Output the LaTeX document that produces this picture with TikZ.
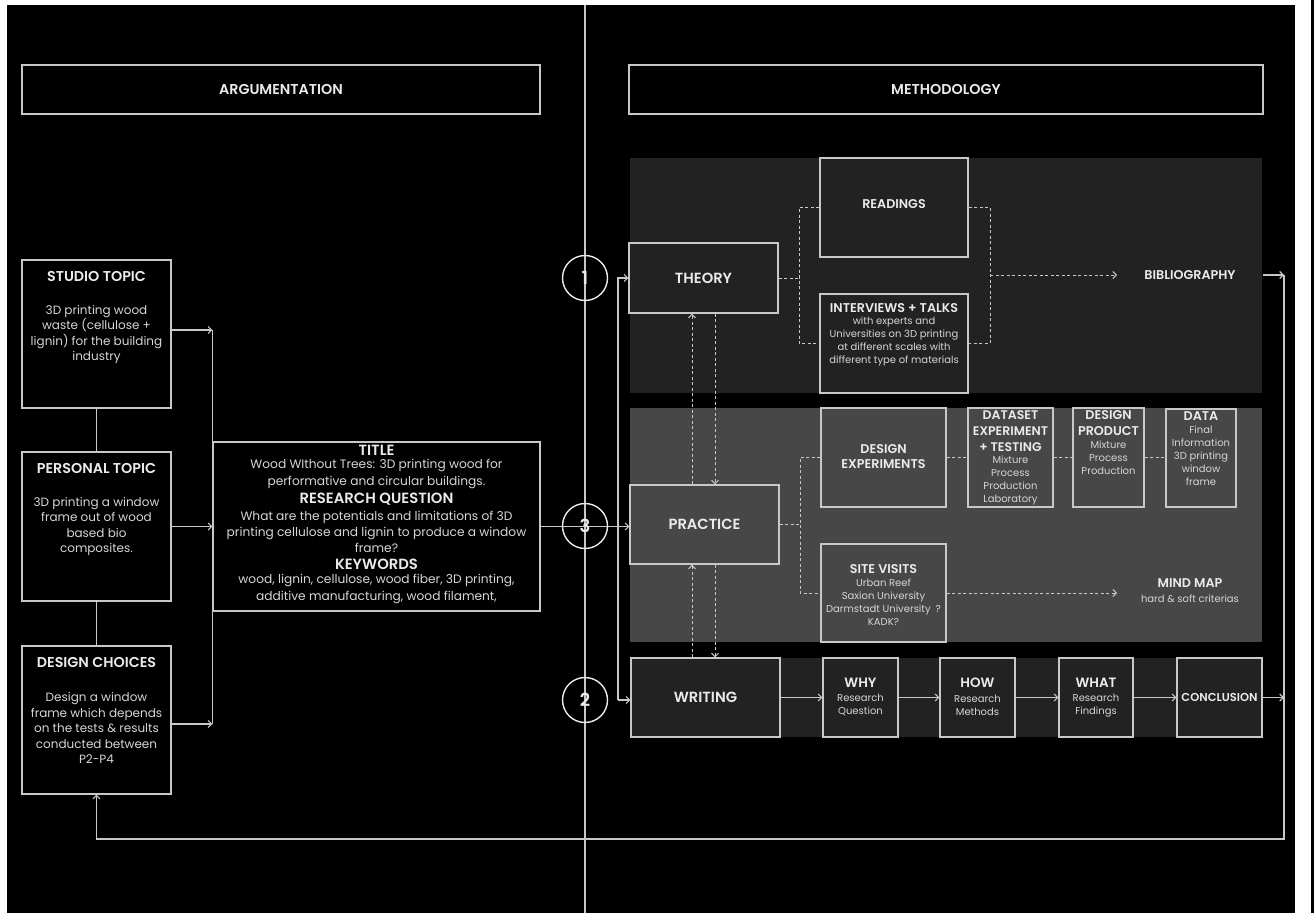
\documentclass[tikz,border=0pt]{standalone}
\usepackage{fontspec}
\setmainfont{Poppins}[BoldFont={Poppins SemiBold}]
\usetikzlibrary{arrows.meta}
\definecolor{lc}{HTML}{C8C8C8}
\definecolor{fg}{HTML}{EBEBEB}
\definecolor{fgb}{HTML}{D6D6D6}
\definecolor{pdark}{HTML}{222222}
\definecolor{pmid}{HTML}{474747}
\newcommand\myhd{\bfseries\fontsize{14.3}{17}\selectfont}
\newcommand\myhdb{\bfseries\fontsize{14.8}{17}\selectfont}
\newcommand\mybd{\fontsize{12}{15.5}\selectfont}
\newcommand\mybdb{\fontsize{12.2}{16.2}\selectfont}
\newcommand\mysm{\fontsize{10}{13}\selectfont}
\newcommand\myhm{\bfseries\fontsize{12.7}{15}\selectfont}
\newcommand\mybig{\bfseries\fontsize{14.7}{17}\selectfont}
\newcommand\myhw{\bfseries\fontsize{13.5}{15}\selectfont}
\begin{document}
\begin{tikzpicture}[x=1pt,y=-1pt,
 ln/.style={draw=lc, line width=1.1pt},
 box/.style={draw=lc, line width=1.2pt, rectangle, inner sep=0pt, text=fg, font=\mybig},
 hd/.style={text=fg, font=\myhd, inner sep=0pt, align=center},
 hdb/.style={text=fg, font=\myhdb, inner sep=0pt, align=center},
 hm/.style={text=fg, font=\myhm, inner sep=0pt, align=center},
 hw/.style={text=fg, font=\myhw, inner sep=0pt, align=center},
 bd/.style={text=fgb, font=\mybd, inner sep=0pt, align=center},
 bdb/.style={text=fgb, font=\mybdb, inner sep=0pt, align=center},
 sm/.style={text=fgb, font=\mysm, inner sep=0pt, align=center},
 arr/.style={ln, -{Straight Barb[length=3.5pt,width=7pt]}},
 dsh/.style={draw=lc, line width=1pt, dash pattern=on 3pt off 2.5pt},
 dsharr/.style={dsh, -{Straight Barb[length=3.5pt,width=7pt]}},
 num/.style={draw=fg, line width=1.4pt, circle, minimum size=45pt, inner sep=0pt, text=fg, font=\bfseries\fontsize{18}{20}\selectfont}
]
\useasboundingbox (0,0) rectangle (1314,913);
\fill[white] (0,0) rectangle (1314,913);
\fill[black] (7,5) rectangle (1295,913);
\fill[black] (1311,0) rectangle (1314,913);

% panels
\fill[pdark] (630,158) rectangle (1262,393);
\fill[pmid] (630,408) rectangle (1262,642);
\fill[pdark] (630,658) rectangle (1262,737);

% divider
\coordinate (dtop) at (585,5);
\coordinate (dbot) at (585,913);
\draw[ln] (dtop) -- (dbot);

% headers
\node[box, minimum width=518pt, minimum height=49pt, font=\myhd] (arg) at (281,89.5) {ARGUMENTATION};
\node[box, minimum width=634pt, minimum height=49pt, font=\myhd] (meth) at (946,89.5) {METHODOLOGY};

% left column
\node[box, minimum width=149pt, minimum height=148pt] (studio) at (96.5,334) {};
\node[hd] (studioH) at (96.5,276) {STUDIO TOPIC};
\node[bd] (studioB) at (96.5,334.5) {3D printing wood\\waste (cellulose +\\lignin) for the building\\industry};
\node[box, minimum width=149pt, minimum height=149pt] (personal) at (96.5,526.5) {};
\node[hd] (personalH) at (96.5,468) {PERSONAL TOPIC};
\node[bd] (personalB) at (96.5,526.5) {3D printing a window\\frame out of wood\\based bio\\composites.};
\node[box, minimum width=149pt, minimum height=148pt] (choice) at (96.5,720) {};
\node[hd] (choiceH) at (96.5,662) {DESIGN CHOICES};
\node[bd] (choiceB) at (96.5,728) {Design a window\\frame which depends\\on the tests \& results\\conducted between\\P2-P4};

% title box
\node[box, minimum width=327pt, minimum height=169pt] (title) at (376.5,526.5) {};
\node[hdb] (titleH) at (376.5,450) {TITLE};
\node[bdb] (titleB) at (376.5,474) {Wood WIthout Trees: 3D printing wood for\\performative and circular buildings.};
\node[hdb] (rqH) at (376.5,499) {RESEARCH QUESTION};
\node[bdb] (rqB) at (376.5,532) {What are the potentials and limitations of 3D\\printing cellulose and lignin to produce a window\\frame?};
\node[hdb] (kwH) at (376.5,564) {KEYWORDS};
\node[bdb] (kwB) at (376.5,589) {wood, lignin, cellulose, wood fiber, 3D printing,\\additive manufacturing, wood filament,};

% left connectors
\draw[ln] (studio.south) -- (personal.north);
\draw[ln] (personal.south) -- (choice.north);
\draw[arr] ([yshift=4pt]studio.east) -- ([yshift=4pt]studio.east -| title.west);
\draw[arr] (personal.east) -- (personal.east -| title.west);
\draw[arr] ([yshift=-4pt]choice.east) -- ([yshift=-4pt]choice.east -| title.west);
\draw[ln] ([yshift=4pt]studio.east -| title.west) -- ([yshift=-4pt]choice.east -| title.west);

% theory panel
\node[box, minimum width=149pt, minimum height=70pt] (theory) at (703.5,278) {THEORY};
\node[box, minimum width=148pt, minimum height=99pt] (readings) at (894,207.5) {};
\node[hm] (readingsT) at (894,204) {READINGS};
\node[box, minimum width=148pt, minimum height=99pt] (interviews) at (894,343.5) {};
\node[hm] (interviewsH) at (894,308) {INTERVIEWS + TALKS};
\node[sm] (interviewsB) at (894,341.5) {with experts and\\Universities on 3D printing\\at different scales with\\different type of materials};
\node[hm] (bib) at (1190,275) {BIBLIOGRAPHY};

% practice panel
\node[box, minimum width=149pt, minimum height=79pt] (practice) at (704.5,524.5) {PRACTICE};
\node[box, minimum width=125pt, minimum height=99pt] (dexp) at (883.5,457.5) {};
\node[hm] (dexpT) at (883.5,456.5) {DESIGN\\EXPERIMENTS};
\node[box, minimum width=125pt, minimum height=98pt] (site) at (883.5,593) {};
\node[hm] (siteH) at (883.5,569) {SITE VISITS};
\node[sm] (siteB) at (883.5,602.5) {Urban Reef\\Saxion University\\Darmstadt University\enspace?\\KADK?};
\node[box, minimum width=85pt, minimum height=99pt] (dataset) at (1010.5,457.5) {};
\node[hm, font=\bfseries\fontsize{12.5}{16}\selectfont] (datasetH) at (1010.5,431) {DATASET\\EXPERIMENT\\+ TESTING};
\node[sm] (datasetB) at (1010.5,480.5) {Mixture\\Process\\Production\\Laboratory};
\node[box, minimum width=71pt, minimum height=99pt] (dprod) at (1108.5,457.5) {};
\node[hm, font=\bfseries\fontsize{12.7}{16}\selectfont] (dprodH) at (1108.5,423) {DESIGN\\PRODUCT};
\node[sm] (dprodB) at (1108.5,458) {Mixture\\Process\\Production};
\node[box, minimum width=70pt, minimum height=98pt] (data) at (1201,458) {};
\node[hm] (dataH) at (1201,416) {DATA};
\node[sm] (dataB) at (1201,456) {Final\\Information\\3D printing\\window\\frame};
\node[hm] (mm) at (1190,583) {MIND MAP};
\node[sm] (mmS) at (1190,599) {hard \& soft criterias};

% writing panel
\node[box, minimum width=149pt, minimum height=79pt] (writing) at (705.5,697.5) {WRITING};
\node[box, minimum width=75pt, minimum height=79pt] (why) at (860.5,697.5) {};
\node[hw] (whyH) at (860.5,683) {WHY};
\node[sm] (whyB) at (860.5,704.5) {Research\\Question};
\node[box, minimum width=75pt, minimum height=79pt] (how) at (977.5,697.5) {};
\node[hw] (howH) at (977.5,683) {HOW};
\node[sm] (howB) at (977.5,705.5) {Research\\Methods};
\node[box, minimum width=74pt, minimum height=79pt] (what) at (1096,697.5) {};
\node[hw] (whatH) at (1096,683) {WHAT};
\node[sm] (whatB) at (1096,705.5) {Research\\Findings};
\node[box, minimum width=85pt, minimum height=79pt, font=\bfseries\fontsize{11.5}{14}\selectfont] (concl) at (1219.5,697.5) {CONCLUSION};

% coordinates
\coordinate (tj) at (799,278);
\coordinate (tj2) at (990,275);
\coordinate (ma) at (1117,0);
\coordinate (pj) at (800,524.5);
\coordinate (vu) at (692,0);
\coordinate (vd) at (715,0);
\coordinate (lb) at (618,700);
\coordinate (pr) at (1263,0);
\coordinate (rb) at (1284,839);

% theory dashed
\draw[dsh] (theory.east) -- (tj);
\draw[dsh] (readings.west) -| (tj) |- (interviews.west);
\draw[dsh] (readings.east) -| (tj2) |- (interviews.east);
\draw[dsharr] (tj2) -- (bib.west -| ma);

% practice dashed
\draw[dsh] (practice.east) -- (pj);
\draw[dsh] (dexp.west) -| (pj) |- (site.west);
\draw[dsh] (dexp.east) -- (dataset.west);
\draw[dsh] (dataset.east) -- (dprod.west);
\draw[dsh] (dprod.east) -- (dprod.east -| data.west);
\draw[dsharr] (site.east) -- (site.east -| ma);

% vertical dashed
\draw[dsharr] (practice.north -| vu) -- (theory.south -| vu);
\draw[dsharr] (theory.south -| vd) -- (practice.north -| vd);
\draw[dsharr] (writing.north -| vu) -- (practice.south -| vu);
\draw[dsharr] (practice.south -| vd) -- (writing.north -| vd);

% writing row
\draw[arr] (writing.east) -- (why.west);
\draw[arr] (why.east) -- (how.west);
\draw[arr] (how.east) -- (what.west);
\draw[arr] (what.east) -- (concl.west);

% buses
\draw[arr] (title.east) -- (title.east -| practice.west);
\draw[arr] (lb) |- (theory.west);
\draw[arr] (lb) -- (lb -| writing.west);
\draw[arr] (bib.east -| pr) -- (bib.east -| rb);
\draw[arr] (concl.east) -- (concl.east -| rb);
\draw[arr] (bib.east -| rb) -- (rb) -| (choice.south);

% circles
\node[num] (c1) at (585,278) {1};
\node[num] (c3) at (585,526) {3};
\node[num] (c2) at (585,700) {2};
\end{tikzpicture}
\end{document}
